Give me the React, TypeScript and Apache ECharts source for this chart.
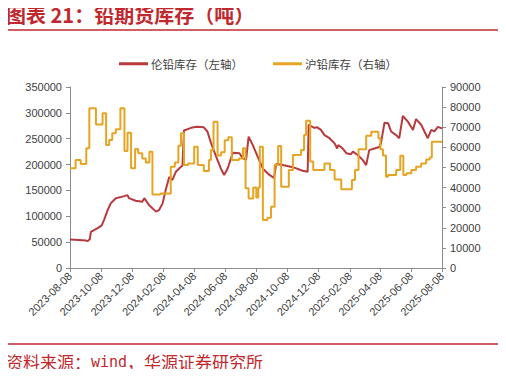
import React, { useEffect, useRef } from "react";
import * as echarts from "echarts";

const START_DATE = "2023-08-08";
const END_DATE = "2025-08-08";

const tickLabels = [
  "2023-08-08", "2023-10-08", "2023-12-08", "2024-02-08", "2024-04-08",
  "2024-06-08", "2024-08-08", "2024-10-08", "2024-12-08", "2025-02-08",
  "2025-04-08", "2025-06-08", "2025-08-08",
];

// LME lead stocks (left axis, tonnes)
const lmeDates = [
  "2023-08-08", "2023-08-25", "2023-09-08", "2023-09-12", "2023-09-16", "2023-09-18",
  "2023-09-26", "2023-10-03", "2023-10-09", "2023-10-14", "2023-10-21", "2023-10-27",
  "2023-11-06", "2023-11-19", "2023-11-29", "2023-12-02", "2023-12-15", "2023-12-28",
  "2024-01-01", "2024-01-10", "2024-01-24", "2024-01-30", "2024-02-06", "2024-02-12",
  "2024-02-19", "2024-02-25", "2024-03-03", "2024-03-10", "2024-03-16", "2024-03-19",
  "2024-04-02", "2024-04-13", "2024-04-27", "2024-05-04", "2024-05-11", "2024-05-21",
  "2024-05-31", "2024-06-06", "2024-06-13", "2024-06-23", "2024-07-06", "2024-07-12",
  "2024-07-19", "2024-07-24", "2024-08-01", "2024-08-11", "2024-08-21", "2024-09-03",
  "2024-09-12", "2024-09-16", "2024-09-29", "2024-10-19", "2024-11-07", "2024-11-17",
  "2024-11-19", "2024-11-30", "2024-12-06", "2024-12-13", "2024-12-20", "2024-12-30",
  "2025-01-09", "2025-01-14", "2025-01-16", "2025-01-25", "2025-02-01", "2025-02-10",
  "2025-02-14", "2025-02-24", "2025-03-05", "2025-03-12", "2025-03-18", "2025-03-28",
  "2025-04-07", "2025-04-10", "2025-04-17", "2025-04-24", "2025-04-30", "2025-05-10",
  "2025-05-16", "2025-05-23", "2025-06-02", "2025-06-12", "2025-06-18", "2025-06-28",
  "2025-07-11", "2025-07-18", "2025-07-24", "2025-07-31", "2025-08-08",
];
const lmeValues = [
  55000, 54000, 53000, 52000, 56000, 70000,
  74000, 78000, 82000, 93000, 112000, 125000,
  135000, 138000, 141000, 135000, 130000, 128000,
  135000, 122000, 109000, 112000, 125000, 151000,
  176000, 170000, 186000, 193000, 198000, 266000,
  271000, 273000, 272000, 264000, 242000, 216000,
  191000, 180000, 193000, 223000, 222000, 213000,
  209000, 254000, 238000, 215000, 192000, 180000,
  174000, 201000, 199000, 195000, 188000, 186000,
  277000, 271000, 272000, 267000, 257000, 251000,
  241000, 231000, 238000, 231000, 222000, 220000,
  225000, 218000, 209000, 199000, 228000, 231000,
  234000, 241000, 281000, 280000, 264000, 257000,
  251000, 294000, 283000, 267000, 288000, 277000,
  251000, 267000, 264000, 273000, 270000,
];

// SHFE lead stocks (right axis, tonnes) - level start dates
const shfeDates = [
  "2023-08-08", "2023-08-19", "2023-08-29", "2023-09-09", "2023-09-15", "2023-09-28",
  "2023-10-11", "2023-10-18", "2023-10-24", "2023-10-30", "2023-11-06", "2023-11-15",
  "2023-11-23", "2023-11-29", "2023-12-06", "2023-12-14", "2023-12-20", "2023-12-28",
  "2024-01-04", "2024-01-11", "2024-01-17", "2024-02-02", "2024-02-22", "2024-03-01",
  "2024-03-08", "2024-03-13", "2024-03-19", "2024-03-27", "2024-04-08", "2024-04-15",
  "2024-04-27", "2024-05-07", "2024-05-11", "2024-05-16", "2024-05-24", "2024-05-31",
  "2024-06-07", "2024-06-14", "2024-06-21", "2024-07-05", "2024-07-13", "2024-07-18",
  "2024-07-24", "2024-08-02", "2024-08-08", "2024-08-12", "2024-08-15", "2024-08-21",
  "2024-08-30", "2024-09-06", "2024-09-13", "2024-09-20", "2024-09-26", "2024-10-11",
  "2024-10-19", "2024-11-04", "2024-11-10", "2024-11-14", "2024-11-22", "2024-11-28",
  "2024-12-20", "2024-12-31", "2025-01-09", "2025-01-22", "2025-02-12", "2025-02-18",
  "2025-02-25", "2025-03-12", "2025-03-22", "2025-04-05", "2025-04-09", "2025-04-14",
  "2025-04-20", "2025-04-24", "2025-05-10", "2025-05-18", "2025-05-24", "2025-05-30",
  "2025-06-09", "2025-06-18", "2025-06-28", "2025-07-08", "2025-07-15", "2025-07-19",
  "2025-08-08",
];
const shfeValues = [
  49600, 53700, 51700, 59500, 79400, 71400,
  76900, 61200, 63600, 67000, 69000, 79400,
  58200, 67300, 49600, 59200, 57000, 54500,
  52400, 57800, 36600, 37100, 50400, 52500,
  60800, 67000, 51200, 52000, 60300, 51200,
  48200, 53700, 58700, 72700, 56000, 57500,
  63500, 65000, 53700, 54500, 59500, 39600,
  34600, 40000, 35000, 40000, 60300, 23900,
  25000, 30500, 51200, 60700, 40400, 48700,
  56200, 58700, 66100, 73200, 52900, 48700,
  52000, 48700, 44000, 39100, 43800, 48700,
  59000, 65800, 67800, 64500, 59000, 56000,
  45400, 46200, 48700, 55800, 46200, 47100,
  48700, 50400, 52000, 54000, 55000, 62800,
  63000,
];

const RED = "#b83a3e";
const YELLOW = "#e6a423";
const TITLE_RED = "#c0282e";

function buildCategories(): string[] {
  const out: string[] = [];
  const d = new Date(START_DATE + "T00:00:00Z");
  const end = new Date(END_DATE + "T00:00:00Z");
  while (d.getTime() <= end.getTime()) {
    out.push(d.toISOString().slice(0, 10));
    d.setUTCDate(d.getUTCDate() + 1);
  }
  return out;
}

export default function App() {
  const ref = useRef<HTMLDivElement>(null);

  useEffect(() => {
    if (!ref.current) return;
    const chart = echarts.init(ref.current, undefined, { renderer: "svg" });
    const categories = buildCategories();
    const labelSet = new Set(tickLabels);
    const showFn = (_i: number, v: string) => labelSet.has(v);
    const font = "'Liberation Sans', Arial, sans-serif";
    const cjk = "'Noto Sans CJK SC', sans-serif";
    const plain = (v: number) => String(v);

    chart.setOption({
      animation: false,
      backgroundColor: "#ffffff",
      textStyle: { fontFamily: font },
      grid: { left: 70, right: 64, top: 87, bottom: 109, containLabel: false },
      legend: {
        top: 53,
        left: 114,
        itemWidth: 29,
        itemHeight: 3,
        itemGap: 30,
        icon: "rect",
        textStyle: { fontFamily: cjk, fontSize: 11.5, color: "#404040", padding: [0, 0, 0, -2] },
        data: ["伦铅库存（左轴）", "沪铅库存（右轴）"],
      },
      xAxis: {
        type: "category",
        data: categories,
        boundaryGap: false,
        axisLine: { lineStyle: { color: "#8c8c8c", width: 1 } },
        axisTick: { interval: showFn, length: 4, lineStyle: { color: "#8c8c8c" } },
        axisLabel: {
          interval: showFn,
          rotate: 45,
          fontSize: 11,
          color: "#404040",
          margin: 6,
          fontFamily: font,
        },
        splitLine: { show: false },
      },
      yAxis: [
        {
          type: "value",
          min: 0,
          max: 350000,
          interval: 50000,
          axisLine: { show: true, lineStyle: { color: "#8c8c8c" } },
          axisTick: { show: true, length: 4, lineStyle: { color: "#8c8c8c" } },
          axisLabel: { fontSize: 11, color: "#404040", margin: 8, fontFamily: font, formatter: plain },
          splitLine: { show: false },
        },
        {
          type: "value",
          min: 0,
          max: 90000,
          interval: 10000,
          position: "right",
          axisLine: { show: true, lineStyle: { color: "#8c8c8c" } },
          axisTick: { show: true, length: 4, lineStyle: { color: "#8c8c8c" } },
          axisLabel: { fontSize: 11, color: "#404040", margin: 8, fontFamily: font, formatter: plain },
          splitLine: { show: false },
        },
      ],
      series: [
        {
          name: "伦铅库存（左轴）",
          type: "line",
          yAxisIndex: 0,
          showSymbol: false,
          symbol: "none",
          lineStyle: { color: RED, width: 2 },
          itemStyle: { color: RED },
          data: lmeDates.map((d, i) => [d, lmeValues[i]]),
        },
        {
          name: "沪铅库存（右轴）",
          type: "line",
          yAxisIndex: 1,
          step: "end",
          showSymbol: false,
          symbol: "none",
          lineStyle: { color: YELLOW, width: 2 },
          itemStyle: { color: YELLOW },
          data: shfeDates.map((d, i) => [d, shfeValues[i]]),
        },
      ],
      graphic: [
        {
          type: "text",
          left: 6,
          top: 4,
          style: {
            text: "图表 21：铅期货库存（吨）",
            fill: TITLE_RED,
            font: `bold 20px ${cjk}`,
          },
        },
        {
          type: "line",
          shape: { x1: 5, y1: 30, x2: 501, y2: 30 },
          style: { stroke: TITLE_RED, lineWidth: 1.5 },
        },
        {
          type: "line",
          shape: { x1: 5, y1: 344, x2: 501, y2: 344 },
          style: { stroke: TITLE_RED, lineWidth: 1.5 },
        },
        {
          type: "text",
          left: 6,
          top: 353,
          style: {
            text: "{a|资料来源：}{b|wind}{a|，华源证券研究所}",
            rich: {
              a: { fontFamily: cjk, fontSize: 17, fill: TITLE_RED, color: TITLE_RED },
              b: { fontFamily: "'DejaVu Sans Mono', monospace", fontSize: 15, fill: TITLE_RED, color: TITLE_RED },
            },
          },
        },
      ],
    });

    return () => chart.dispose();
  }, []);

  return <div ref={ref} style={{ width: 506, height: 377, margin: -8 }} />;
}
